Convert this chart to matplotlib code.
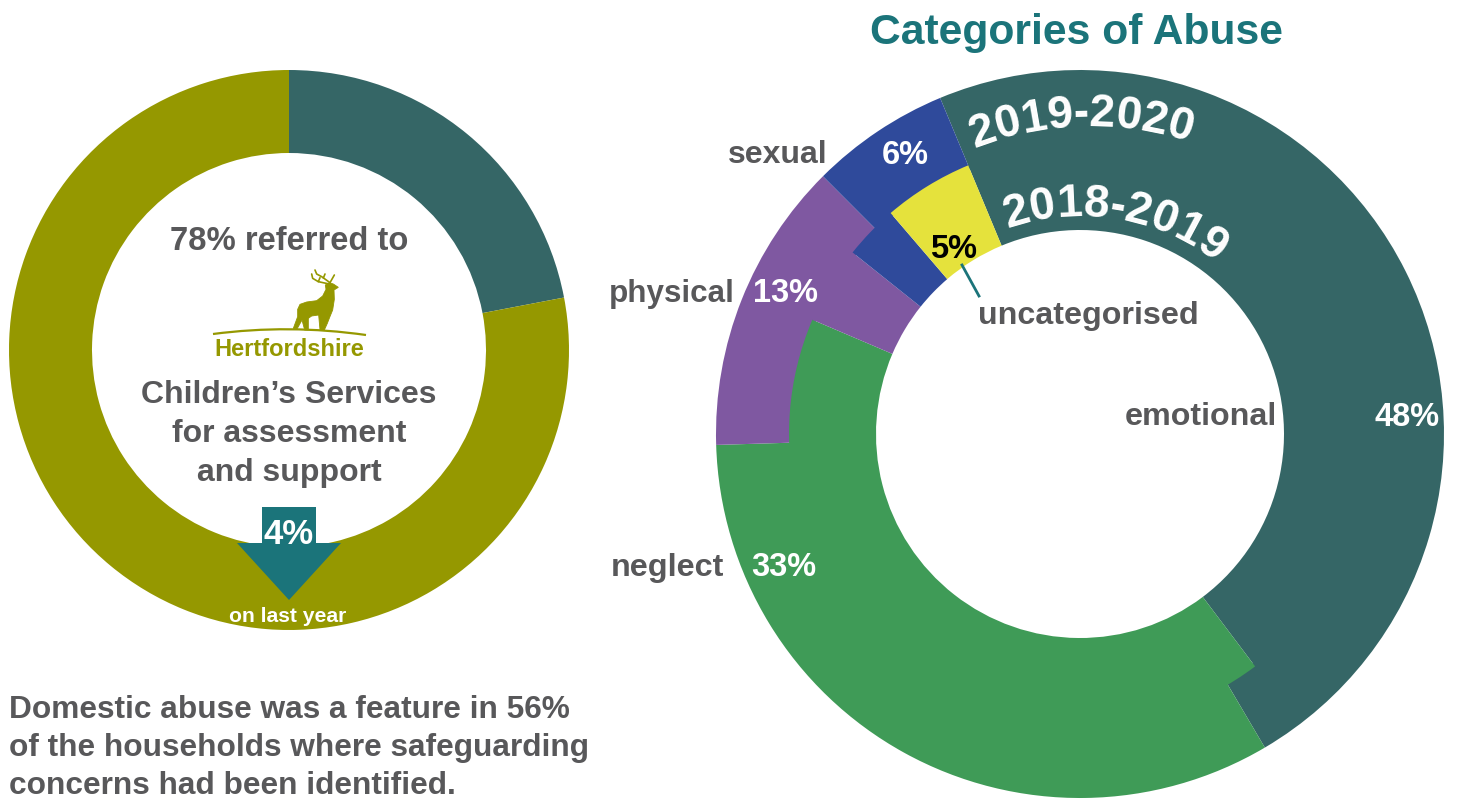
import matplotlib
matplotlib.use("Agg")
import numpy as np
import matplotlib.pyplot as plt
from matplotlib.patches import Polygon, PathPatch
from matplotlib.path import Path
from matplotlib.textpath import TextPath
from matplotlib.font_manager import FontProperties

W, H = 1458, 799
plt.rcParams['font.family'] = ['Liberation Sans', 'DejaVu Sans']

# --- data ---
referred_labels = ['other', 'referred to Children\u2019s Services']
referred_values = [22, 78]
categories = ['emotional', 'neglect', 'physical', 'sexual', 'uncategorised']
values_2019_2020 = [47.8, 33.0, 13.0, 6.2, 0.0]
values_2018_2019 = [46.0, 41.7, 4.3, 3.0, 5.0]
shown_percent = ['48%', '33%', '13%', '6%', '5%']

# --- style ---
TEAL = '#356666'; OLIVE = '#959800'; GREEN = '#3F9B57'; PURPLE = '#7F58A1'
BLUE = '#2F4A9B'; YELLOW = '#E5E23C'; ARROW = '#1B747A'; GREY = '#58585A'
cat_colors = [TEAL, GREEN, PURPLE, BLUE, YELLOW]

fig = plt.figure(figsize=(W/100, H/100), dpi=100)
ax = fig.add_axes([0, 0, 1, 1])

def Y(y):
    return H - y

def donut(vals, cols, cx, cy, radius, width, start):
    ax.pie(vals, colors=cols, center=(cx, Y(cy)), radius=radius, startangle=start,
           counterclock=False, frame=True,
           wedgeprops=dict(width=width, linewidth=0))

donut(referred_values, [TEAL, OLIVE], 289, 350, 280, 83, 90)
donut(values_2019_2020, cat_colors, 1080, 434, 364, 77, 112.6)
donut(values_2018_2019, cat_colors, 1080, 434, 291, 87, 112.6)

ax.set_xlim(0, W); ax.set_ylim(0, H); ax.set_aspect('equal'); ax.axis('off')

def T(x, y, s, size, color=GREY, ha='center', **kw):
    ax.text(x, Y(y + 3), s, fontsize=size, color=color, ha=ha, va='center',
            fontweight='bold', **kw)

# left text
T(289, 238, '78% referred to', 23.6)
T(289, 392, 'Children\u2019s Services', 23)
T(289, 431, 'for assessment', 23)
T(289, 470, 'and support', 23)
for i, line in enumerate(['Domestic abuse was a feature in 56%',
                          'of the households where safeguarding',
                          'concerns had been identified.']):
    T(9, 706.5 + 38.5*i, line, 22.8, ha='left')

# arrow
ax.add_patch(Polygon([(262, Y(507)), (316, Y(507)), (316, Y(543)), (341, Y(543)),
                      (289, Y(600)), (237, Y(543)), (262, Y(543))],
                     closed=True, fc=ARROW, ec='none', zorder=3))
T(289, 531, '4%', 25, 'white', zorder=4)
T(288, 613, 'on last year', 15.2, 'white', zorder=4)

# logo
def z(pts):
    return [(130 + x/3, Y(210 + y/3)) for x, y in pts]

deer = [(503, 298), (510, 283), (530, 276), (560, 272), (578, 258), (588, 238), (586, 225),
        (598, 218), (610, 222), (625, 232), (612, 240), (613, 268), (608, 300),
        (599, 322), (592, 340), (583, 360), (570, 360), (566, 315), (545, 318), (535, 325),
        (535, 360), (524, 360), (516, 330), (501, 357), (490, 355), (503, 320)]
ax.add_patch(Polygon(z(deer), closed=True, fc=OLIVE, ec=OLIVE, lw=0.6, zorder=3))
antlers = [
    [(598, 222), (565, 215), (548, 205), (545, 192)],
    [(600, 218), (575, 200), (560, 192), (555, 180)],
    [(600, 218), (613, 195)],
    [(565, 215), (570, 203)],
    [(580, 204), (585, 192)],
]
for a in antlers:
    pts = np.array(z(a))
    ax.plot(pts[:, 0], pts[:, 1], color=OLIVE, lw=1.2, solid_capstyle='round', zorder=3)
curve = Path([(213, Y(334)), (289, Y(324)), (366, Y(335))],
             [Path.MOVETO, Path.CURVE3, Path.CURVE3])
ax.add_patch(PathPatch(curve, fc='none', ec=OLIVE, lw=1.6, zorder=3))
ax.text(289.5, Y(349), 'Hertfordshire', fontsize=17, color=OLIVE, ha='center', va='center',
        fontweight='bold')

# right text
T(1076.5, 30, 'Categories of Abuse', 30.7, ARROW)
T(778, 152, 'sexual', 23)
T(672, 291, 'physical', 22.6)
T(667.5, 565, 'neglect', 23.3)
T(1200.5, 414, 'emotional', 23.2)
T(1088, 313, 'uncategorised', 23.2)
T(905, 152, shown_percent[3], 23.5, 'white')
T(786, 291, shown_percent[2], 23.5, 'white')
T(784, 565, shown_percent[1], 23.5, 'white')
T(1407, 415, shown_percent[0], 23.5, 'white')
T(954, 246, shown_percent[4], 23.5, 'black')
ax.plot([962, 979], [Y(265), Y(296)], color=ARROW, lw=2, zorder=3)

# curved labels
def curved(s, cx, cy, r, mid_deg, size):
    fp = FontProperties(family='Liberation Sans', weight='bold', size=size)
    px = 100/72
    adv = [TextPath((0, 0), s[:i+1], prop=fp).get_extents().x1 * px for i in range(len(s))]
    left = [0] + adv[:-1]
    total = adv[-1]
    for ch, l, a in zip(s, left, adv):
        m = (l + a) / 2 - total / 2
        th = np.radians(mid_deg) + m / r
        x = cx + r*np.sin(th); y = cy - r*np.cos(th)
        ax.text(x, Y(y), ch, fontproperties=fp, color='white', ha='center', va='baseline',
                rotation=-np.degrees(th), rotation_mode='anchor', zorder=5)

curved('2019-2020', 1090, 442, 316, -1.5, 33)
curved('2018-2019', 1080, 434, 218, 9.5, 33)

fig.savefig('out.png', dpi=100)
